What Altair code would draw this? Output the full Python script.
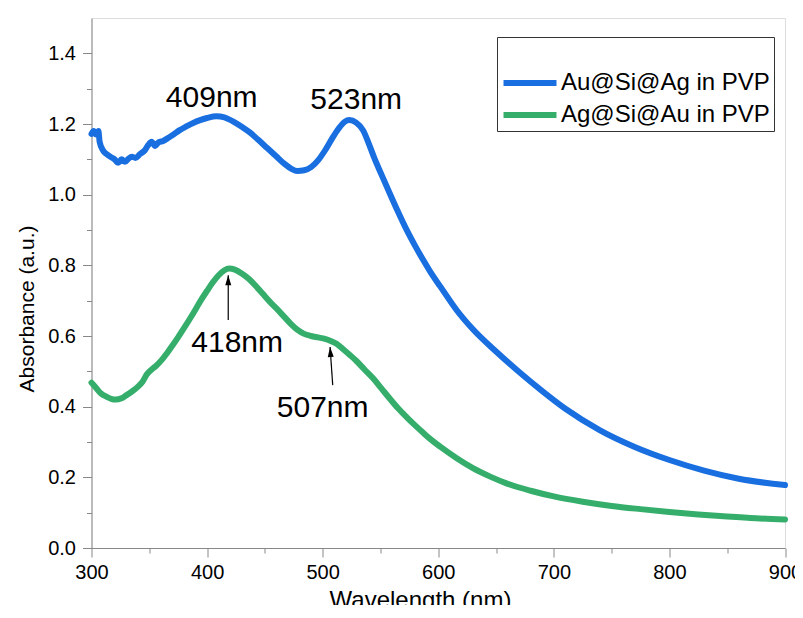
import altair as alt
import pandas as pd

# ---------------- data ----------------
series_names = ["Au@Si@Ag in PVP", "Ag@Si@Au in PVP"]
series_colors = ["#1A6FE0", "#35AE6B"]

blue_nm = [300, 302, 304, 306, 307, 310, 313, 316, 320, 323, 326, 329, 332, 335, 338,
           342, 346, 349, 352, 355, 358, 362, 366, 370, 376, 382, 388, 394, 400, 408,
           415, 422, 430, 437, 444, 452, 460, 467, 473, 478, 484, 490, 496, 502, 508,
           514, 519, 523, 529, 535, 540, 545, 551, 558, 565, 573, 580, 587, 594, 602,
           616, 630, 650, 670, 690, 710, 740, 770, 800, 830, 860, 900]
blue_abs = [1.172, 1.180, 1.170, 1.180, 1.150, 1.125, 1.115, 1.108, 1.100, 1.090, 1.100,
            1.093, 1.102, 1.107, 1.104, 1.115, 1.125, 1.140, 1.150, 1.138, 1.148, 1.152,
            1.160, 1.168, 1.182, 1.193, 1.203, 1.211, 1.217, 1.222, 1.219, 1.208, 1.192,
            1.176, 1.156, 1.132, 1.108, 1.087, 1.073, 1.067, 1.069, 1.078, 1.097, 1.125,
            1.158, 1.188, 1.206, 1.211, 1.204, 1.182, 1.144, 1.101, 1.056, 1.004, 0.953,
            0.898, 0.855, 0.815, 0.777, 0.739, 0.673, 0.619, 0.556, 0.498, 0.444, 0.394,
            0.333, 0.286, 0.249, 0.219, 0.196, 0.178]

green_nm = [300, 304, 308, 313, 317, 321, 326, 330, 335, 340, 344, 348, 352, 356, 361,
            365, 370, 375, 380, 385, 390, 395, 400, 405, 410, 415, 419, 424, 430, 436,
            442, 448, 454, 460, 466, 472, 478, 484, 490, 496, 502, 507, 512, 518, 524,
            529, 536, 544, 551, 558, 565, 573, 580, 587, 594, 602, 616, 630, 645, 659,
            680, 700, 725, 750, 775, 800, 825, 850, 875, 900]
green_abs = [0.468, 0.453, 0.438, 0.428, 0.422, 0.420, 0.424, 0.432, 0.443, 0.456, 0.470,
             0.492, 0.505, 0.516, 0.533, 0.550, 0.573, 0.597, 0.622, 0.648, 0.675, 0.703,
             0.728, 0.752, 0.772, 0.786, 0.791, 0.788, 0.777, 0.762, 0.742, 0.720, 0.698,
             0.678, 0.657, 0.636, 0.618, 0.606, 0.600, 0.596, 0.592, 0.586, 0.578, 0.562,
             0.545, 0.530, 0.506, 0.479, 0.451, 0.423, 0.396, 0.369, 0.347, 0.326, 0.306,
             0.286, 0.254, 0.226, 0.202, 0.183, 0.162, 0.146, 0.131, 0.119, 0.110, 0.102,
             0.095, 0.089, 0.084, 0.081]

x_major = [300, 400, 500, 600, 700, 800, 900]
x_minor = [350, 450, 550, 650, 750, 850]
y_major = [0.0, 0.2, 0.4, 0.6, 0.8, 1.0, 1.2, 1.4]
y_minor = [0.1, 0.3, 0.5, 0.7, 0.9, 1.1, 1.3]

peak_labels = ["409nm", "523nm", "418nm", "507nm"]
peak_label_nm = [404, 529, 426, 500]
peak_label_abs = [1.248, 1.242, 0.555, 0.370]

arrow_tail_nm = [418.3, 508.7]
arrow_tail_abs = [0.645, 0.461]
arrow_tip_nm = [418.3, 506.4]
arrow_tip_abs = [0.772, 0.569]
arrow_angle = [0, 356]

# ---------------- tables ----------------
spectra = pd.concat([
    pd.DataFrame({"nm": blue_nm, "abs": blue_abs, "series": series_names[0]}),
    pd.DataFrame({"nm": green_nm, "abs": green_abs, "series": series_names[1]}),
], ignore_index=True)

labels_df = pd.DataFrame({"nm": peak_label_nm, "abs": peak_label_abs, "label": peak_labels})
arrows_df = pd.DataFrame({"nm": arrow_tail_nm, "abs": arrow_tail_abs,
                          "nm2": arrow_tip_nm, "abs2": arrow_tip_abs, "angle": arrow_angle})

FONT = "Liberation Sans"
xscale = alt.Scale(domain=[300, 900], nice=False, zero=False)
yscale = alt.Scale(domain=[0, 1.5], nice=False, zero=False)

x_axis_major = alt.Axis(orient="bottom", values=x_major, format="d", tickSize=9,
                        labelFontSize=20, labelPadding=5, labelFlush=False,
                        labelOverlap=False, grid=False,
                        title="Wavelength (nm)", titleFontSize=24, titleFontWeight="normal",
                        titleX=328.5, titleY=40, titleAlign="center", titleBaseline="top")
y_axis_major = alt.Axis(orient="left", values=y_major, format=".1f", tickSize=9,
                        labelFontSize=20, labelPadding=7, labelFlush=False,
                        labelOverlap=False, grid=False,
                        title="Absorbance (a.u.)", titleFontSize=21, titleFontWeight="normal",
                        titleAngle=270, titleX=-64, titleY=290.5, titleAlign="center",
                        titleBaseline="middle")
x_axis_minor = alt.Axis(orient="bottom", values=x_minor, tickSize=5, labels=False,
                        domain=False, grid=False, title=None)
y_axis_minor = alt.Axis(orient="left", values=y_minor, tickSize=5, labels=False,
                        domain=False, grid=False, title=None)

lines = alt.Chart(spectra).mark_line(strokeWidth=6, interpolate="monotone",
                                      strokeJoin="round", strokeCap="round").encode(
    x=alt.X("nm:Q", scale=xscale, axis=x_axis_major),
    y=alt.Y("abs:Q", scale=yscale, axis=y_axis_major),
    color=alt.Color("series:N",
                    scale=alt.Scale(domain=series_names, range=series_colors),
                    sort=series_names,
                    legend=alt.Legend(orient="none", legendX=405.5, legendY=19,
                                      title=" ", titleFontSize=24, titlePadding=4,
                                      symbolType="M-2.5,0L2.5,0", symbolStrokeWidth=6,
                                      symbolSize=449, symbolOffset=15,
                                      labelFontSize=24, labelFont=FONT,
                                      labelColor="black", labelOffset=17, rowPadding=6,
                                      padding=4, strokeColor="#333333", fillColor="white",
                                      labelLimit=400)),
    detail="series:N",
)

minor = alt.Chart(spectra).mark_line(opacity=0).encode(
    x=alt.X("nm:Q", scale=xscale, axis=x_axis_minor),
    y=alt.Y("abs:Q", scale=yscale, axis=y_axis_minor),
    detail="series:N",
)

texts = alt.Chart(labels_df).mark_text(fontSize=30, font=FONT, color="black",
                                       align="center", baseline="alphabetic").encode(
    x=alt.X("nm:Q", scale=xscale, axis=None),
    y=alt.Y("abs:Q", scale=yscale, axis=None),
    text="label:N",
)

shafts = alt.Chart(arrows_df).mark_rule(color="black", strokeWidth=1.2).encode(
    x=alt.X("nm:Q", scale=xscale, axis=None),
    y=alt.Y("abs:Q", scale=yscale, axis=None),
    x2="nm2:Q",
    y2="abs2:Q",
)

heads = alt.Chart(arrows_df).mark_point(shape="M0,0 L0.6,2 L-0.6,2 Z", filled=True,
                                        color="black", opacity=1, size=100).encode(
    x=alt.X("nm2:Q", scale=xscale, axis=None),
    y=alt.Y("abs2:Q", scale=yscale, axis=None),
    angle=alt.Angle("angle:Q", scale=None),
)

chart = alt.layer(lines, minor, texts, shafts, heads).resolve_axis(
    x="independent", y="independent"
).properties(
    width=693.5, height=530,
    autosize=alt.AutoSizeParams(type="none"),
    padding={"left": 83.5, "top": 10, "right": 10, "bottom": 57},
).configure_view(
    stroke="black", strokeWidth=1.5
).configure_axis(
    domainColor="black", domainWidth=2, tickColor="black", tickWidth=2,
    labelColor="black", labelFont=FONT, titleFont=FONT, titleColor="black",
).configure_legend(
    labelFont=FONT, titleFont=FONT, strokeWidth=1,
).configure(background="white")

chart.save("out.html", embed_options={"renderer": "svg", "actions": False})
